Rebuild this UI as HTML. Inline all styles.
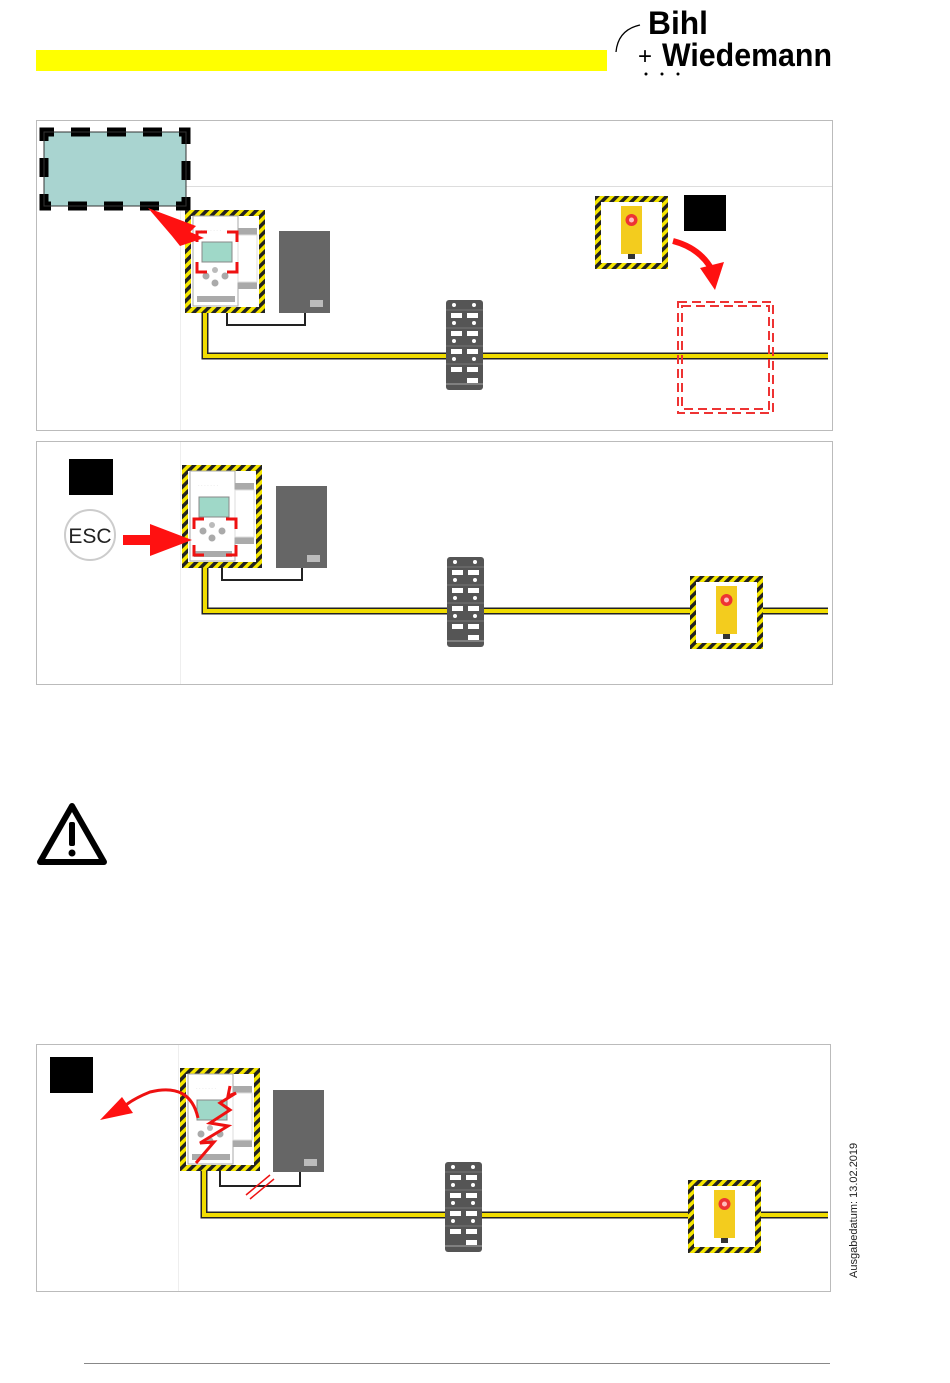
<!DOCTYPE html>
<html><head><meta charset="utf-8"><style>
html,body{margin:0;padding:0;background:#fff;}
svg{display:block;font-family:"Liberation Sans",sans-serif;}
</style></head><body>
<svg width="950" height="1383" viewBox="0 0 950 1383" xmlns="http://www.w3.org/2000/svg">
<defs>
<pattern id="hz" patternUnits="userSpaceOnUse" width="7" height="7" patternTransform="rotate(45)">
<rect width="7" height="7" fill="#f5e600"/><rect width="3.5" height="7" fill="#222"/>
</pattern>
<g id="ctrl">
<rect x="3" y="3" width="74" height="97" fill="#fff" stroke="url(#hz)" stroke-width="6"/>
<rect x="8" y="6" width="45" height="90" fill="#fff" stroke="#aaa" stroke-width="1"/>
<rect x="53" y="18" width="19" height="7" fill="#aaa"/>
<rect x="53" y="72" width="19" height="7" fill="#aaa"/>
<rect x="53" y="25" width="19" height="47" fill="#fff" stroke="#ddd"/>
<rect x="17" y="32" width="30" height="20" fill="#9fd8c8" stroke="#888" stroke-width="1"/>
<circle cx="21" cy="66" r="3.5" fill="#aaa"/><circle cx="40" cy="66" r="3.5" fill="#aaa"/>
<circle cx="30" cy="60" r="3" fill="#bbb"/><circle cx="30" cy="73" r="3.5" fill="#aaa"/>
<rect x="12" y="86" width="38" height="6" fill="#aaa"/>
<text x="16" y="22" font-size="5" fill="#ccc">· · · · · · ·</text>
</g>
<g id="ps"><rect width="51" height="82" fill="#666"/><rect x="31" y="69" width="13" height="7" fill="#bbb"/></g>
<g id="io">
<rect width="37" height="90" rx="3" fill="#555"/>
<g fill="#fff">
<rect x="5" y="13" width="11" height="5"/><rect x="21" y="13" width="11" height="5"/>
<rect x="5" y="31" width="11" height="5"/><rect x="21" y="31" width="11" height="5"/>
<rect x="5" y="49" width="11" height="5"/><rect x="21" y="49" width="11" height="5"/>
<rect x="5" y="67" width="11" height="5"/><rect x="21" y="67" width="11" height="5"/>
<rect x="21" y="78" width="11" height="5"/>
<circle cx="8" cy="5" r="2"/><circle cx="28" cy="5" r="2"/>
<circle cx="8" cy="23" r="2"/><circle cx="28" cy="23" r="2"/>
<circle cx="8" cy="41" r="2"/><circle cx="28" cy="41" r="2"/>
<circle cx="8" cy="59" r="2"/><circle cx="28" cy="59" r="2"/>
</g>
<line x1="0" y1="10" x2="37" y2="10" stroke="#777"/><line x1="0" y1="28" x2="37" y2="28" stroke="#777"/>
<line x1="0" y1="46" x2="37" y2="46" stroke="#777"/><line x1="0" y1="64" x2="37" y2="64" stroke="#777"/>
<line x1="0" y1="84" x2="37" y2="84" stroke="#aaa"/>
</g>
<g id="es">
<rect x="3" y="3" width="67" height="67" fill="#fff" stroke="url(#hz)" stroke-width="6"/>
<rect x="26" y="10" width="21" height="48" fill="#f3cc1e"/>
<circle cx="36.5" cy="24" r="6" fill="#e33"/><circle cx="36.5" cy="24" r="2.5" fill="#fbb"/>
<rect x="33" y="58" width="7" height="5" fill="#333"/>
</g>
</defs>

<!-- header -->
<rect x="36" y="50" width="571" height="21" fill="#ffff00"/>
<path d="M616 52 Q618 30 640 25" fill="none" stroke="#000" stroke-width="1.3"/>
<text x="648" y="34" font-size="32" font-weight="bold" fill="#000" textLength="60" lengthAdjust="spacingAndGlyphs">Bihl</text>
<text x="638" y="64" font-size="24" fill="#000">+</text>
<text x="662" y="66" font-size="32" font-weight="bold" fill="#000" textLength="170" lengthAdjust="spacingAndGlyphs">Wiedemann</text>
<circle cx="646" cy="74" r="1.5"/><circle cx="662" cy="74" r="1.5"/><circle cx="678" cy="74" r="1.5"/>

<!-- panel 1 -->
<rect x="36.5" y="120.5" width="796" height="310" fill="#fff" stroke="#bbb"/>
<line x1="180" y1="186.5" x2="832" y2="186.5" stroke="#ddd"/>
<line x1="180.5" y1="186" x2="180.5" y2="430" stroke="#eee"/>
<rect x="44" y="132" width="142" height="74" fill="#a9d4d0"/>
<rect x="44" y="132" width="142" height="74" fill="none" stroke="#000" stroke-width="9" pathLength="432" stroke-dasharray="19 17" stroke-dashoffset="9"/>
<rect x="44" y="132" width="142" height="74" fill="none" stroke="#333" stroke-width="1"/>
<path d="M227 313 V325 H305 V313" fill="none" stroke="#222" stroke-width="2"/>
<path d="M205 313 V356 H828" fill="none" stroke="#222" stroke-width="7"/>
<path d="M205 313 V356 H828" fill="none" stroke="#f0dc00" stroke-width="4"/>
<use href="#ctrl" x="185" y="210"/>
<g fill="none" stroke="#e11" stroke-width="3">
<path d="M197 242 V232 H207"/><path d="M227 232 H237 V242"/><path d="M197 262 V272 H207"/><path d="M227 272 H237 V262"/>
</g>
<polygon points="148,208 196,226 190,232 204,238 180,246 172,236" fill="#f11"/>
<use href="#ps" x="279" y="231"/>
<use href="#io" x="446" y="300"/>
<use href="#es" x="595" y="196"/>
<rect x="684" y="195" width="42" height="36" fill="#000"/>
<path d="M673 241 Q700 248 712 270" fill="none" stroke="#f11" stroke-width="6"/>
<polygon points="700,268 724,262 715,290" fill="#f11"/>
<rect x="678" y="302" width="95" height="111" fill="none" stroke="#e33" stroke-width="2" stroke-dasharray="9,5"/>
<rect x="682" y="306" width="87" height="103" fill="none" stroke="#e33" stroke-width="2" stroke-dasharray="9,5"/>

<!-- panel 2 -->
<rect x="36.5" y="441.5" width="796" height="243" fill="#fff" stroke="#bbb"/>
<line x1="180.5" y1="442" x2="180.5" y2="684" stroke="#eee"/>
<rect x="69" y="459" width="44" height="36" fill="#000"/>
<circle cx="90" cy="535" r="25" fill="#fff" stroke="#ccc" stroke-width="2"/>
<text x="90" y="543" font-size="21" text-anchor="middle" fill="#222">ESC</text>
<path d="M205 567 V611 H828" fill="none" stroke="#222" stroke-width="7"/>
<path d="M205 567 V611 H828" fill="none" stroke="#f0dc00" stroke-width="4"/>
<path d="M222 567 V580 H302 V567" fill="none" stroke="#222" stroke-width="2"/>
<use href="#ctrl" x="182" y="465"/>
<g fill="none" stroke="#e11" stroke-width="3">
<path d="M194 529 V519 H204"/><path d="M226 519 H236 V529"/><path d="M194 545 V555 H204"/><path d="M226 555 H236 V545"/>
</g>
<rect x="123" y="535" width="28" height="10" fill="#f11"/>
<polygon points="150,524 192,540 150,556" fill="#f11"/>
<use href="#ps" x="276" y="486"/>
<use href="#io" x="447" y="557"/>
<use href="#es" x="690" y="576"/>

<!-- warning -->
<path d="M72 806 L104 862 H40 Z" fill="none" stroke="#000" stroke-width="6" stroke-linejoin="round"/>
<rect x="69" y="822" width="6" height="24" rx="2" fill="#000"/>
<circle cx="72" cy="853" r="3.5" fill="#000"/>

<!-- panel 3 -->
<rect x="36.5" y="1044.5" width="794" height="247" fill="#fff" stroke="#bbb"/>
<line x1="178.5" y1="1045" x2="178.5" y2="1291" stroke="#eee"/>
<rect x="50" y="1057" width="43" height="36" fill="#000"/>
<path d="M204 1171 V1215 H828" fill="none" stroke="#222" stroke-width="7"/>
<path d="M204 1171 V1215 H828" fill="none" stroke="#f0dc00" stroke-width="4"/>
<path d="M220 1171 V1186 H300 V1171" fill="none" stroke="#222" stroke-width="2"/>
<line x1="246" y1="1195" x2="270" y2="1175" stroke="#e11" stroke-width="1.5"/>
<line x1="250" y1="1199" x2="274" y2="1179" stroke="#e11" stroke-width="1.5"/>
<use href="#ctrl" x="180" y="1068"/>
<polyline points="230,1086 228,1096 236,1093 220,1103 230,1110 210,1123 228,1126 200,1143 214,1142 196,1163" fill="none" stroke="#e11" stroke-width="3"/>
<path d="M198 1118 Q190 1082 150 1092 Q130 1100 120 1110" fill="none" stroke="#e11" stroke-width="3"/>
<polygon points="100,1120 122,1097 133,1113" fill="#f11"/>
<use href="#ps" x="273" y="1090"/>
<use href="#io" x="445" y="1162"/>
<use href="#es" x="688" y="1180"/>
<text transform="translate(857,1278) rotate(-90)" font-size="11" fill="#222">Ausgabedatum: 13.02.2019</text>

<line x1="84" y1="1363.5" x2="830" y2="1363.5" stroke="#888"/>
</svg>
</body></html>
